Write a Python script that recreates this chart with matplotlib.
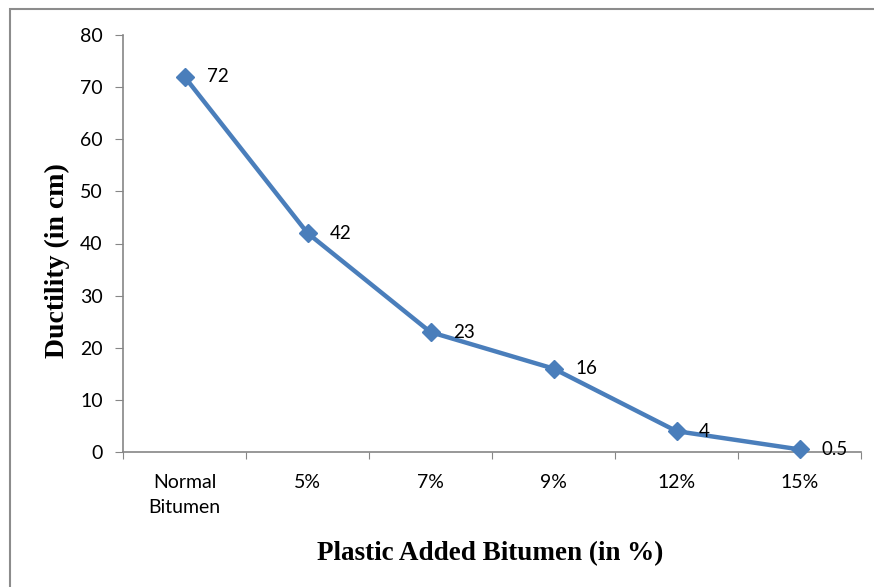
import matplotlib
matplotlib.use("Agg")
from matplotlib import pyplot as plt
from matplotlib.patches import Rectangle

categories = ["Normal\nBitumen", "5%", "7%", "9%", "12%", "15%"]
ductility = [72, 42, 23, 16, 4, 0.5]
value_labels = ["72", "42", "23", "16", "4", "0.5"]
y_ticks = [0, 10, 20, 30, 40, 50, 60, 70, 80]

line_color = "#4a7ebb"
axis_gray = "#868686"
tick_font = "Lato"

fig = plt.figure(figsize=(8.74, 5.87), dpi=100)
# outer chart frame (only left and top edges are visible in the crop)
fig.patches.append(Rectangle((10 / 874, -0.1), 1.2, 1.1 - 9 / 587, transform=fig.transFigure,
                             fill=False, edgecolor="#8c8c8c", linewidth=1.5))

ax = fig.add_axes([123 / 874, 1 - 452 / 587, (861 - 123) / 874, (452 - 35) / 587])

x = list(range(len(categories)))
ax.plot(x, ductility, color=line_color, lw=3.2, marker="D", markersize=9,
        markeredgecolor=line_color, markerfacecolor=line_color, zorder=3, clip_on=False)

for xi, yi, lab in zip(x, ductility, value_labels):
    ax.annotate(lab, (xi, yi), xytext=(16, 0), textcoords="offset points",
                ha="left", va="center", fontsize=13.5, family=tick_font, color="black")

ax.set_xlim(-0.5, len(categories) - 0.5)
ax.set_ylim(0, 80)
ax.set_yticks(y_ticks)
ax.set_xticks([i - 0.5 for i in range(len(categories) + 1)], minor=False)
ax.set_xticklabels([])
ax.set_xticks(x, minor=True)
ax.set_xticklabels(categories, minor=True, family=tick_font, fontsize=14, linespacing=1.55)
ax.tick_params(axis="x", which="minor", length=0, pad=16)
ax.tick_params(axis="x", which="major", length=5, color=axis_gray, direction="out")
ax.tick_params(axis="y", length=5.5, color=axis_gray, direction="out", pad=9)
for t in ax.get_yticklabels():
    t.set_family(tick_font)
    t.set_fontsize(14)

for side in ["top", "right"]:
    ax.spines[side].set_visible(False)
for side in ["left", "bottom"]:
    ax.spines[side].set_color(axis_gray)
    ax.spines[side].set_linewidth(1.2)

ax.set_ylabel("Ductility (in cm)", family="Liberation Serif", fontweight="bold", fontsize=20)
ax.set_xlabel("Plastic Added Bitumen (in %)", family="Liberation Serif", fontweight="bold",
              fontsize=19.5)
ax.yaxis.set_label_coords(-0.072, 0.458)
ax.xaxis.set_label_coords(0.497, -0.213)

fig.savefig("out.png", dpi=100)
